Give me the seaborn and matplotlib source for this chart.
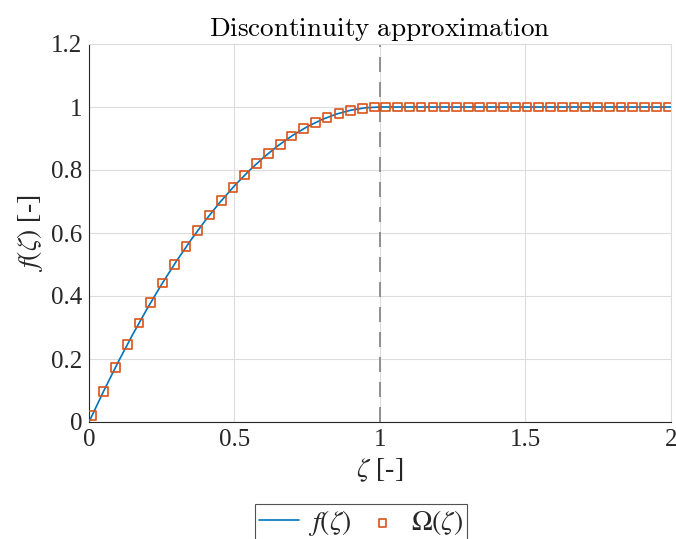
import matplotlib
matplotlib.use("Agg")
import matplotlib.pyplot as plt
import seaborn as sns
import pandas as pd

# continuous curve f(zeta)
line_zeta = [0.0, 0.05, 0.10, 0.15, 0.20, 0.25, 0.30, 0.35, 0.40, 0.45, 0.50,
             0.55, 0.60, 0.65, 0.70, 0.75, 0.80, 0.85, 0.90, 0.95, 1.00, 2.00]
line_f = [0.0, 0.0975, 0.190, 0.2775, 0.360, 0.4375, 0.510, 0.5775, 0.640, 0.6975, 0.750,
          0.7975, 0.840, 0.8775, 0.910, 0.9375, 0.960, 0.9775, 0.990, 0.9975, 1.000, 1.000]

# sampled approximation Omega(zeta)
marker_zeta = [0.010, 0.050, 0.091, 0.131, 0.172, 0.212, 0.252, 0.293, 0.333, 0.374,
               0.414, 0.455, 0.495, 0.535, 0.576, 0.616, 0.657, 0.697, 0.737, 0.778,
               0.818, 0.859, 0.899, 0.939, 0.980, 1.020, 1.061, 1.101, 1.141, 1.182,
               1.222, 1.263, 1.303, 1.343, 1.384, 1.424, 1.465, 1.505, 1.545, 1.586,
               1.626, 1.667, 1.707, 1.747, 1.788, 1.828, 1.869, 1.909, 1.949, 1.990]
marker_omega = [0.020, 0.098, 0.173, 0.245, 0.314, 0.379, 0.441, 0.500, 0.556, 0.608,
                0.657, 0.702, 0.745, 0.784, 0.820, 0.853, 0.882, 0.908, 0.931, 0.951,
                0.967, 0.980, 0.990, 0.996, 1.000, 1.000, 1.000, 1.000, 1.000, 1.000,
                1.000, 1.000, 1.000, 1.000, 1.000, 1.000, 1.000, 1.000, 1.000, 1.000,
                1.000, 1.000, 1.000, 1.000, 1.000, 1.000, 1.000, 1.000, 1.000, 1.000]

x_ticks = [0, 0.5, 1, 1.5, 2]
x_tick_labels = ["0", "0.5", "1", "1.5", "2"]
y_ticks = [0, 0.2, 0.4, 0.6, 0.8, 1.0, 1.2]
y_tick_labels = ["0", "0.2", "0.4", "0.6", "0.8", "1", "1.2"]

sns.set_style("white")
plt.rcParams["font.family"] = "serif"
plt.rcParams["font.serif"] = ["Liberation Serif", "DejaVu Serif"]
plt.rcParams["mathtext.fontset"] = "stix"

fig = plt.figure(figsize=(6.76, 5.39), dpi=100)
ax = fig.add_axes([89 / 676, 117 / 539, 582 / 676, 378 / 539])

line_df = pd.DataFrame({"zeta": line_zeta, "f": line_f})
mark_df = pd.DataFrame({"zeta": marker_zeta, "omega": marker_omega})

sns.lineplot(data=line_df, x="zeta", y="f", ax=ax, color="#0072BD", lw=1.2,
             label=r"$f(\zeta)$", zorder=3)
sns.scatterplot(data=mark_df, x="zeta", y="omega", ax=ax, marker="s", s=40,
                facecolor="none", edgecolor="#D95319", linewidth=1.2,
                label=r"$\Omega(\zeta)$", zorder=4)

ax.axvline(1.0, color="#808080", lw=1.2, ls=(0, (9, 6)), zorder=2)

ax.set_xlim(0, 2)
ax.set_ylim(0, 1.2)
ax.set_xticks(x_ticks)
ax.set_xticklabels(x_tick_labels)
ax.set_yticks(y_ticks)
ax.set_yticklabels(y_tick_labels)
ax.tick_params(axis="both", labelsize=18, direction="in", length=5, color="#262626",
               pad=5, labelcolor="#262626")
ax.grid(True, color="#dcdcdc", lw=0.8)
ax.set_axisbelow(True)

for side in ["top", "right"]:
    ax.spines[side].set_color("#dcdcdc")
for side in ["left", "bottom"]:
    ax.spines[side].set_color("#262626")
for sp in ax.spines.values():
    sp.set_linewidth(0.8)

ax.set_xlabel(r"$\zeta$ [-]", fontsize=20, color="#262626", labelpad=4)
ax.set_ylabel(r"$f(\zeta)$ [-]", fontsize=20, color="#262626", labelpad=4)
ax.set_title(r"$\mathrm{Discontinuity\ approximation}$", fontsize=19.5,
             math_fontfamily="cm", pad=6, color="black")

leg = ax.legend(loc="upper center", bbox_to_anchor=(361 / 676, 1 - 504 / 539),
                bbox_transform=fig.transFigure, ncol=2, fontsize=20,
                frameon=True, fancybox=False, edgecolor="#262626",
                handlelength=1.45, columnspacing=0.4, borderpad=0.15,
                handletextpad=0.3, markerscale=0.85, borderaxespad=0)
leg.get_frame().set_linewidth(0.8)

fig.savefig("out.png", dpi=100)
